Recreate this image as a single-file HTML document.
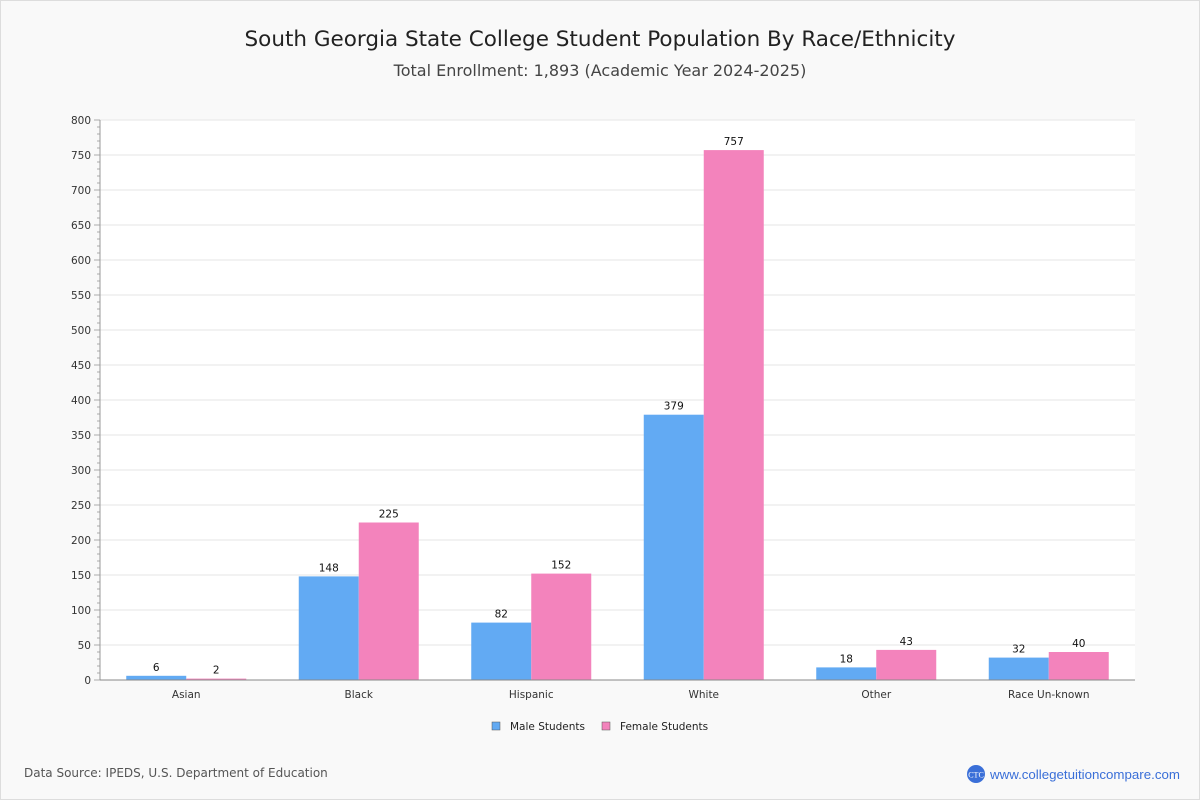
<!DOCTYPE html>
<html><head><meta charset="utf-8"><style>
body{margin:0;width:1200px;height:800px;overflow:hidden;background:#fff;font-family:"DejaVu Sans","Liberation Sans",sans-serif}
#wrap{position:absolute;left:0;top:0;width:1198px;height:798px;border:1px solid #ddd;background:#f9f9f9}
</style></head><body>
<div id="wrap">
<svg id="chart" width="1200" height="800" style="position:absolute;left:-1px;top:-1px">
<text x="600" y="46" text-anchor="middle" font-size="21.5" fill="#222">South Georgia State College Student Population By Race/Ethnicity</text>
<text x="600" y="76" text-anchor="middle" font-size="16" fill="#444">Total Enrollment: 1,893 (Academic Year 2024-2025)</text>
<rect x="100" y="120" width="1035" height="560" fill="#fff"/>
<g id="grid"></g><g id="bars"></g><g id="axes"></g>
<g>
<rect x="492" y="722" width="8" height="8" fill="#62aaf3" stroke="#555" stroke-width="0.5"/>
<text x="510" y="730" font-size="10.5" fill="#222">Male Students</text>
<rect x="602" y="722" width="8" height="8" fill="#f383bc" stroke="#555" stroke-width="0.5"/>
<text x="620" y="730" font-size="10.5" fill="#222">Female Students</text>
</g>
<text x="24" y="777" font-size="12" fill="#555">Data Source: IPEDS, U.S. Department of Education</text>
<g>
<circle cx="976" cy="774" r="9" fill="#3a6fd8"/>
<text x="976" y="777.5" text-anchor="middle" font-size="8" fill="#fff" font-family="Liberation Serif,serif">CTC</text>
<text x="990" y="779" font-size="13.3" fill="#3a6fd8" font-family="Liberation Sans,sans-serif">www.collegetuitioncompare.com</text>
</g>
</svg></div>
<script>
const categories=["Asian","Black","Hispanic","White","Other","Race Un-known"];
const maleValues=[6,148,82,379,18,32];
const femaleValues=[2,225,152,757,43,40];
const yTicks=[0,50,100,150,200,250,300,350,400,450,500,550,600,650,700,750,800];
const NS="http://www.w3.org/2000/svg";
const X0=100,X1=1135,Y0=680,Y1=120,YMAX=800;
const y=v=>Y0-(v/YMAX)*(Y0-Y1);
const band=(X1-X0)/categories.length;
const xc=i=>X0+band*(i+0.5);
const BW=60;
function mk(t,a,p){const e=document.createElementNS(NS,t);for(const k in a)e.setAttribute(k,a[k]);p.appendChild(e);return e;}
const grid=document.getElementById('grid'),bars=document.getElementById('bars'),axes=document.getElementById('axes');
yTicks.forEach(v=>{
 if(v>0){const g=mk('line',{x1:X0,x2:X1,y1:y(v),y2:y(v),stroke:'#e6e6e6'},grid);
 
 }
 const t=mk('text',{x:91,y:y(v)+4,'text-anchor':'end','font-size':10.5,fill:'#333'},axes);t.textContent=v;
 
 
});
for(let v=0;v<=YMAX;v+=10){mk('line',{x1:v%50?97:94,x2:X0,y1:y(v),y2:y(v),stroke:'#aaa'},axes);}
mk('line',{x1:X0,x2:X0,y1:Y1,y2:Y0,stroke:'#999'},axes);
mk('line',{x1:X0,x2:X1,y1:Y0,y2:Y0,stroke:'#888'},axes);
categories.forEach((c,i)=>{
 [[maleValues[i],'#62aaf3',-BW,'male'],[femaleValues[i],'#f383bc',0,'female']].forEach(([v,col,off,s])=>{
  const r=mk('rect',{x:xc(i)+off,y:y(v),width:BW,height:Y0-y(v),fill:col},bars);
  
  
  const t=mk('text',{x:xc(i)+off+BW/2,y:y(v)-5,'text-anchor':'middle','font-size':10.5,fill:'#111'},bars);t.textContent=v;
  
  
 });
 const t=mk('text',{x:xc(i),y:698,'text-anchor':'middle','font-size':10.5,fill:'#333'},axes);t.textContent=c;
 
 
});
</script>
</body></html>
